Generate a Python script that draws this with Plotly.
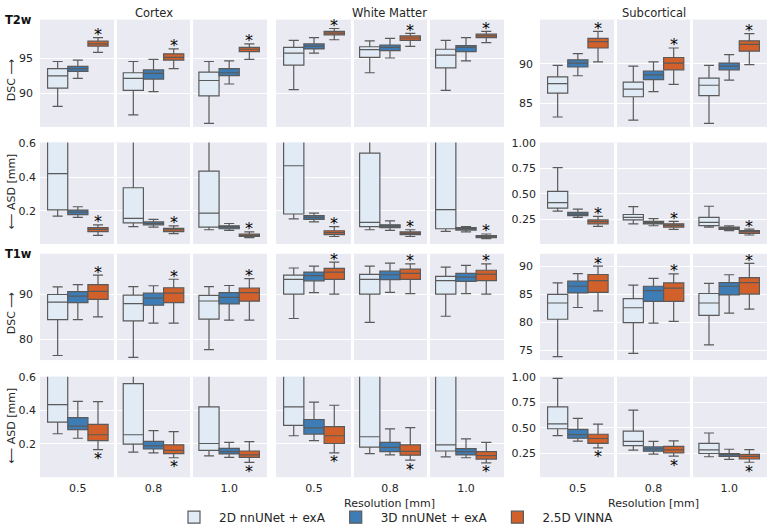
import plotly.graph_objects as go

# ---------------- data (lower whisker, Q1, median, Q3, upper whisker) ----------------
resolutions = ["0.5", "0.8", "1.0"]
methods = ["2D nnUNet + exA", "3D nnUNet + exA", "2.5D VINNA"]
structures = ["Cortex", "White Matter", "Subcortical"]
modalities = ["T2w", "T1w"]

t2w_dsc_cortex = [
    [(88.1, 90.7, 92.45, 93.5, 94.5), (86.9, 90.4, 92.1, 92.9, 94.5), (85.7, 89.6, 91.8, 93.0, 94.5)],
    [(92.1, 93.1, 93.5, 93.8, 94.7), (90.2, 92.0, 92.8, 93.3, 94.8), (91.3, 92.5, 92.9, 93.5, 94.6)],
    [(95.8, 96.7, 97.0, 97.4, 97.9), (93.5, 94.7, 95.1, 95.6, 96.3), (94.8, 95.9, 96.25, 96.5, 97.0)],
]
t2w_dsc_wm = [
    [(90.5, 94.0, 95.7, 96.5, 97.5), (92.9, 95.1, 96.2, 96.6, 97.45), (90.4, 93.6, 95.4, 96.25, 97.5)],
    [(95.7, 96.3, 96.7, 97.0, 97.9), (95.0, 96.05, 96.5, 96.85, 97.8), (94.6, 95.9, 96.5, 96.75, 97.9)],
    [(97.6, 98.3, 98.55, 98.8, 99.2), (96.65, 97.5, 97.85, 98.15, 98.5), (97.2, 97.9, 98.15, 98.4, 98.8)],
]
t2w_dsc_sub = [
    [(83.3, 86.3, 87.5, 88.35, 89.8), (82.9, 85.85, 86.8, 87.7, 89.7), (82.5, 86.0, 87.3, 88.2, 89.8)],
    [(88.5, 89.6, 90.1, 90.5, 91.3), (86.5, 88.0, 88.6, 89.1, 90.25), (87.95, 89.25, 89.7, 90.1, 91.15)],
    [(90.25, 92.0, 92.8, 93.2, 94.1), (87.4, 89.25, 90.1, 90.8, 92.0), (89.9, 91.6, 92.45, 92.9, 93.8)],
]
t2w_asd_cortex = [
    [(0.170, 0.206, 0.421, 0.70, 1.20), (0.108, 0.130, 0.156, 0.337, 0.80), (0.089, 0.104, 0.187, 0.435, 0.90)],
    [(0.162, 0.178, 0.193, 0.205, 0.225), (0.104, 0.118, 0.126, 0.135, 0.150), (0.085, 0.095, 0.104, 0.112, 0.126)],
    [(0.056, 0.078, 0.091, 0.101, 0.118), (0.066, 0.078, 0.089, 0.097, 0.112), (0.043, 0.049, 0.056, 0.064, 0.076)],
]
t2w_asd_wm = [
    [(0.153, 0.182, 0.467, 0.75, 1.30), (0.089, 0.108, 0.133, 0.542, 1.00), (0.080, 0.095, 0.208, 0.70, 1.20)],
    [(0.135, 0.150, 0.162, 0.172, 0.187), (0.085, 0.101, 0.110, 0.118, 0.141), (0.076, 0.087, 0.095, 0.101, 0.108)],
    [(0.049, 0.060, 0.072, 0.083, 0.108), (0.049, 0.060, 0.068, 0.076, 0.089), (0.037, 0.043, 0.049, 0.055, 0.064)],
]
t2w_asd_sub = [
    [(0.331, 0.360, 0.414, 0.526, 0.760), (0.206, 0.244, 0.269, 0.298, 0.375), (0.173, 0.189, 0.221, 0.269, 0.379)],
    [(0.269, 0.286, 0.302, 0.318, 0.350), (0.187, 0.206, 0.218, 0.231, 0.257), (0.138, 0.151, 0.163, 0.173, 0.187)],
    [(0.180, 0.206, 0.228, 0.244, 0.279), (0.151, 0.173, 0.190, 0.206, 0.231), (0.096, 0.112, 0.129, 0.138, 0.154)],
]
t1w_dsc_cortex = [
    [(76.4, 84.4, 88.3, 90.0, 91.7), (76.0, 84.1, 87.98, 89.85, 91.75), (77.7, 84.5, 88.55, 89.8, 91.75)],
    [(84.4, 88.2, 89.65, 90.65, 92.2), (83.6, 87.6, 89.2, 90.3, 91.95), (84.3, 87.9, 89.35, 90.4, 92.0)],
    [(85.0, 88.9, 90.7, 92.2, 94.3), (83.6, 88.2, 90.3, 91.5, 93.4), (84.3, 88.5, 90.4, 91.45, 93.55)],
]
t1w_dsc_wm = [
    [(84.65, 90.1, 93.35, 94.3, 95.9), (83.8, 90.1, 93.35, 94.5, 96.3), (85.15, 90.1, 93.1, 94.05, 96.1)],
    [(90.4, 93.05, 94.2, 95.0, 96.3), (90.45, 93.3, 94.4, 95.2, 97.0), (90.2, 92.9, 93.85, 94.7, 96.5)],
    [(90.1, 93.35, 95.0, 95.8, 97.2), (90.2, 93.35, 94.7, 95.65, 96.8), (90.1, 93.1, 94.55, 95.4, 96.8)],
]
t1w_dsc_sub = [
    [(73.8, 80.5, 83.4, 84.95, 87.0), (74.4, 79.9, 82.55, 84.2, 86.6), (75.9, 81.2, 83.4, 85.1, 86.9)],
    [(82.6, 85.2, 86.4, 87.3, 88.65), (79.8, 83.7, 85.6, 86.4, 87.8), (81.6, 84.85, 86.4, 87.05, 88.45)],
    [(82.0, 85.3, 87.4, 88.5, 90.0), (80.1, 83.7, 86.05, 87.0, 88.6), (82.3, 85.0, 87.05, 87.95, 90.5)],
]
t1w_asd_cortex = [
    [(0.261, 0.330, 0.435, 0.65, 1.00), (0.152, 0.199, 0.255, 0.560, 0.90), (0.129, 0.162, 0.203, 0.421, 0.85)],
    [(0.234, 0.286, 0.307, 0.357, 0.454), (0.147, 0.170, 0.189, 0.216, 0.280), (0.120, 0.141, 0.154, 0.174, 0.209)],
    [(0.166, 0.220, 0.255, 0.317, 0.452), (0.118, 0.143, 0.162, 0.195, 0.274), (0.090, 0.120, 0.135, 0.158, 0.214)],
]
t1w_asd_wm = [
    [(0.249, 0.311, 0.421, 0.65, 1.00), (0.143, 0.181, 0.243, 0.62, 1.00), (0.123, 0.158, 0.195, 0.65, 1.10)],
    [(0.220, 0.259, 0.296, 0.346, 0.450), (0.135, 0.154, 0.180, 0.210, 0.290), (0.118, 0.135, 0.154, 0.172, 0.230)],
    [(0.147, 0.203, 0.249, 0.303, 0.431), (0.104, 0.133, 0.156, 0.195, 0.297), (0.087, 0.110, 0.131, 0.154, 0.209)],
]
t1w_asd_sub = [
    [(0.423, 0.490, 0.538, 0.705, 0.987), (0.279, 0.323, 0.365, 0.467, 0.673), (0.214, 0.246, 0.282, 0.346, 0.448)],
    [(0.368, 0.397, 0.433, 0.484, 0.592), (0.240, 0.269, 0.291, 0.311, 0.365), (0.188, 0.217, 0.234, 0.246, 0.288)],
    [(0.301, 0.346, 0.394, 0.436, 0.535), (0.221, 0.253, 0.282, 0.317, 0.371), (0.160, 0.192, 0.217, 0.237, 0.285)],
]

panel_data = [
    [t2w_dsc_cortex, t2w_dsc_wm, t2w_dsc_sub],
    [t2w_asd_cortex, t2w_asd_wm, t2w_asd_sub],
    [t1w_dsc_cortex, t1w_dsc_wm, t1w_dsc_sub],
    [t1w_asd_cortex, t1w_asd_wm, t1w_asd_sub],
]
star_side = ["above", "above", "above", "below"]  # significance marker on VINNA

# y-axis settings per row: (shared cortex/WM range, ticks), (subcortical range, ticks)
y_main = [
    ([85.18, 100.46], [90, 95], ["90", "95"]),
    ([0.0046, 0.604], [0.2, 0.4, 0.6], ["0.2", "0.4", "0.6"]),
    ([75.37, 99.07], [80, 90], ["80", "90"]),
    ([0.002, 0.601], [0.2, 0.4, 0.6], ["0.2", "0.4", "0.6"]),
]
y_sub = [
    ([82.04, 95.57], [85, 90], ["85", "90"]),
    ([0.0067, 1.0067], [0.25, 0.5, 0.75, 1.0], ["0.25", "0.50", "0.75", "1.00"]),
    ([73.19, 92.2], [75, 80, 85, 90], ["75", "80", "85", "90"]),
    ([0.0125, 1.003], [0.25, 0.5, 0.75, 1.0], ["0.25", "0.50", "0.75", "1.00"]),
]
ylabels = ["DSC \u27f6", "\u27f5 ASD [mm]", "DSC \u27f6", "\u27f5 ASD [mm]"]

# ---------------- style / layout ----------------
W, H = 770, 532
FONT = "DejaVu Sans"
TXT = "#262626"
fills = ["#e0ebf5", "#3d7cb4", "#d2602a"]
edge = "#5a5a5a"
BOXGAP = 0.2
col_px = [(40, 267), (276, 504), (540, 767)]
row_px = [(14, 124), (140, 244), (254, 363), (380, 483)]
ylabel_y = [76, 190, 315, 430]

fig = go.Figure()
layout = {}
annotations = []
positions = list(range(len(resolutions)))
vinna_offset = -(1 - BOXGAP) / 2 + 2.5 * (1 - BOXGAP) / 3

for r in range(4):
    for c in range(3):
        k = r * 3 + c + 1
        xs = "x" if k == 1 else f"x{k}"
        ys = "y" if k == 1 else f"y{k}"
        data = panel_data[r][c]
        for m in range(3):
            stats = data[m]
            fig.add_trace(go.Box(
                x=positions,
                lowerfence=[s[0] for s in stats],
                q1=[s[1] for s in stats],
                median=[s[2] for s in stats],
                q3=[s[3] for s in stats],
                upperfence=[s[4] for s in stats],
                name=methods[m], legendgroup=methods[m], showlegend=(k == 1),
                alignmentgroup=f"panel{k}", offsetgroup=f"m{m}",
                fillcolor=fills[m], line=dict(color=edge, width=1.2),
                whiskerwidth=0.5, boxpoints=False,
                xaxis=xs, yaxis=ys, hoverinfo="skip",
            ))
        # significance stars on VINNA
        vin = data[2]
        for i, s in enumerate(vin):
            yv = s[4] if star_side[r] == "above" else s[0]
            annotations.append(dict(
                x=i + vinna_offset, y=yv, xref=xs, yref=ys, text="*", showarrow=False,
                font=dict(family=FONT, size=16, color="black"),
                xanchor="center", yanchor="middle",
                yshift=3 if star_side[r] == "above" else -9,
            ))
        x0, x1 = col_px[c]
        t, b = row_px[r]
        yr, yt, ytt = (y_sub[r] if c == 2 else y_main[r])
        layout["xaxis" if k == 1 else f"xaxis{k}"] = dict(
            domain=[x0 / W, x1 / W], anchor=ys, range=[-0.5, 2.5],
            tickvals=positions, ticktext=resolutions, showticklabels=(r == 3),
            showgrid=False, zeroline=False, ticks="", showline=False,
            tickfont=dict(family=FONT, size=11, color=TXT), ticklabelstandoff=3,
            minor=dict(tickvals=[0.5, 1.5], showgrid=True, gridcolor="white", gridwidth=2.5, ticks=""),
        )
        layout["yaxis" if k == 1 else f"yaxis{k}"] = dict(
            domain=[1 - b / H, 1 - t / H], anchor=xs, range=yr,
            tickvals=yt, ticktext=ytt, showticklabels=(c != 1),
            showgrid=True, gridcolor="white", gridwidth=1, zeroline=False, ticks="",
            tickfont=dict(family=FONT, size=11, color=TXT),
            ticklabelstandoff=(6 if r in (0, 2) else 3),
        )

# column titles
for c, name in enumerate(structures):
    annotations.append(dict(x=(col_px[c][0] + col_px[c][1]) / 2 / W, y=1 - 7 / H, xref="paper", yref="paper",
                            text=name, showarrow=False, xanchor="center", yanchor="middle",
                            font=dict(family=FONT, size=11.5, color=TXT)))
# row (modality) labels
for i, name in enumerate(modalities):
    annotations.append(dict(x=3 / W, y=1 - row_px[2 * i][0] / H, xref="paper", yref="paper",
                            text=f"<b>{name}</b>", showarrow=False, xanchor="left", yanchor="middle",
                            font=dict(family=FONT, size=11.5, color="#111111")))
# y axis labels
for r in range(4):
    annotations.append(dict(x=11 / W, y=1 - ylabel_y[r] / H, xref="paper", yref="paper",
                            text=ylabels[r], showarrow=False, textangle=-90, xanchor="center", yanchor="middle",
                            font=dict(family=FONT, size=11, color=TXT)))
# x axis titles (White Matter and Subcortical columns)
for c in (1, 2):
    annotations.append(dict(x=(col_px[c][0] + col_px[c][1]) / 2 / W, y=1 - 510 / H, xref="paper", yref="paper",
                            text="Resolution [mm]", showarrow=False, xanchor="center", yanchor="middle",
                            font=dict(family=FONT, size=11, color=TXT)))

fig.update_layout(
    width=W, height=H, margin=dict(l=0, r=0, t=0, b=0),
    paper_bgcolor="white", plot_bgcolor="#eaeaf2",
    boxmode="group", boxgap=BOXGAP, boxgroupgap=0,
    annotations=annotations,
    legend=dict(orientation="h", x=394 / W, xanchor="center", y=1 - 524 / H, yanchor="middle",
                font=dict(family=FONT, size=12, color=TXT), bgcolor="rgba(0,0,0,0)",
                itemwidth=40, tracegroupgap=0),
    font=dict(family=FONT, color=TXT),
    **layout,
)

fig.write_html("out.html", config={"displayModeBar": False},
               post_script="document.body.style.margin='0';document.body.style.overflow='hidden';")
